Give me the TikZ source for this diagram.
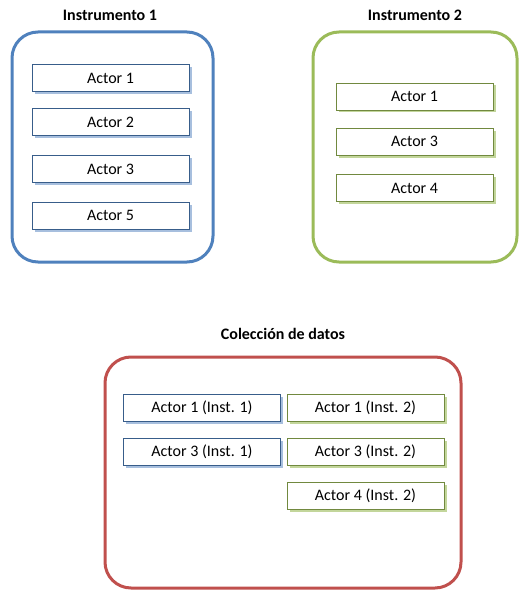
\documentclass[tikz,border=0pt]{standalone}
\usepackage{fontspec}
\setmainfont{Carlito}
\usetikzlibrary{shadows}
\definecolor{bOut}{HTML}{4F81BD}
\definecolor{gOut}{HTML}{9BBB59}
\definecolor{rOut}{HTML}{C0504D}
\definecolor{bIn}{HTML}{385D8A}
\definecolor{gIn}{HTML}{71893F}
\definecolor{bSh}{HTML}{A7BFDE}
\definecolor{gSh}{HTML}{C3D69B}
\begin{document}
\begin{tikzpicture}[x=1pt,y=-1pt,
  frame/.style={draw=#1,line width=3pt,rounded corners=26pt},
  title/.style={font=\fontsize{16}{19}\selectfont\bfseries},
  actor/.style={draw=#1,line width=0.9pt,fill=white,minimum height=27pt,inner sep=0pt,font=\fontsize{16}{19}\selectfont},
  bact/.style={actor=bIn,minimum width=157pt,drop shadow={shadow xshift=2.5pt,shadow yshift=-2.5pt,fill=bSh,opacity=1}},
  gact/.style={actor=gIn,minimum width=157pt,drop shadow={shadow xshift=2.5pt,shadow yshift=-2.5pt,fill=gSh,opacity=1}}]
\useasboundingbox (0,0) rectangle (527,599);
% Instrumento 1
\node[title] (t1) at (110,15) {Instrumento 1};
\draw[frame=bOut] (12,32) rectangle (213,262);
\node[bact] (a11) at (110.5,78) {Actor 1};
\node[bact] (a12) at (110.5,122) {Actor 2};
\node[bact] (a13) at (110.5,169) {Actor 3};
\node[bact] (a15) at (110.5,215.5) {Actor 5};
% Instrumento 2
\node[title] (t2) at (415,15) {Instrumento 2};
\draw[frame=gOut] (313,32) rectangle (517,262);
\node[gact] (a21) at (414.5,96.5) {Actor 1};
\node[gact] (a23) at (414.5,141.5) {Actor 3};
\node[gact] (a24) at (414.5,188) {Actor 4};
% Coleccion
\node[title] (t3) at (283,334) {Colección de datos};
\draw[frame=rOut] (105,357) rectangle (461,588);
\node[bact] (c11) at (202,408) {Actor 1 (Inst. 1)};
\node[bact] (c13) at (202,451.5) {Actor 3 (Inst. 1)};
\node[gact] (c21) at (365.5,408) {Actor 1 (Inst. 2)};
\node[gact] (c23) at (365.5,451.5) {Actor 3 (Inst. 2)};
\node[gact] (c24) at (365.5,495.5) {Actor 4 (Inst. 2)};
\end{tikzpicture}
\end{document}
